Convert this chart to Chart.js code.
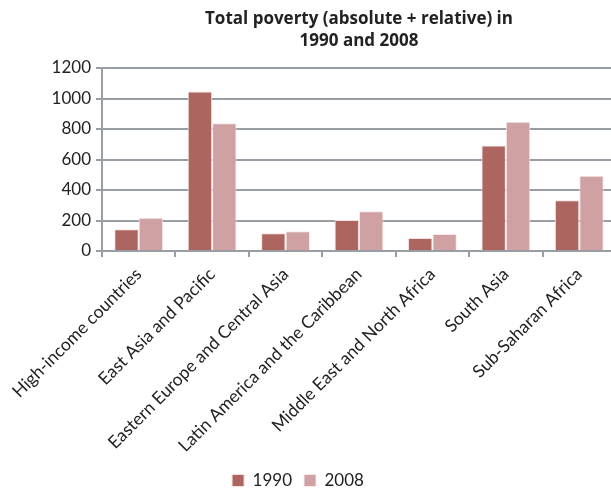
<!DOCTYPE html>
<html>
<head>
<meta charset="utf-8">
<script src="https://cdn.jsdelivr.net/npm/chart.js@4"></script>
<style>
  html, body { margin: 0; padding: 0; background: #fff; overflow: hidden; }
  .wrap { position: relative; width: 611px; height: 490px; overflow: hidden; }
  #chartTitle {
    position: absolute; top: 7px; left: 102px; width: 514px;
    text-align: center; font: bold 17px "Open Sans", sans-serif; line-height: 22px; color: #222;
  }
  canvas { position: absolute; left: 0; top: 0; }
</style>
</head>
<body>
<div class="wrap">
  <canvas id="barChart" width="617" height="490"></canvas>
  <div id="chartTitle">Total poverty (absolute + relative) in<br>1990 and 2008</div>
</div>
<script>
const regions = [
  'High-income countries',
  'East Asia and Pacific',
  'Eastern Europe and Central Asia',
  'Latin America and the Caribbean',
  'Middle East and North Africa',
  'South Asia',
  'Sub-Saharan Africa'
];
const poverty1990 = [143, 1046, 117, 203, 86, 691, 332];
const poverty2008 = [218, 837, 130, 260, 112, 848, 493];
const yTicks = [0, 200, 400, 600, 800, 1000, 1200];

const gridGray = '#999da4';
const textColor = '#222';

window.onload = () => {
  const ctx = document.getElementById('barChart').getContext('2d');
  new Chart(ctx, {
    type: 'bar',
    data: {
      labels: regions,
      datasets: [
        {
          label: '1990',
          data: poverty1990,
          backgroundColor: '#ac665f',
          borderColor: '#f2e0e0',
          borderWidth: 1,
          barPercentage: 1,
          categoryPercentage: 0.665
        },
        {
          label: '2008',
          data: poverty2008,
          backgroundColor: '#d0a1a3',
          borderColor: '#f6e8e8',
          borderWidth: 1,
          barPercentage: 1,
          categoryPercentage: 0.665
        }
      ]
    },
    options: {
      responsive: false,
      animation: false,
      // negative left padding pulls the legend centre left to where the original sits
      layout: { padding: { top: 68, bottom: -9, left: -20, right: 1 } },
      scales: {
        x: {
          grid: { display: true, drawOnChartArea: false, tickLength: 6, color: gridGray, lineWidth: 2, offset: true },
          border: { color: gridGray, width: 2 },
          ticks: {
            font: { family: 'Lato', size: 17.5 },
            color: textColor,
            minRotation: 45,
            maxRotation: 45,
            padding: 7,
            autoSkip: false
          },
          afterFit: scale => { scale.height = 209; }
        },
        y: {
          min: 0,
          max: 1200,
          afterBuildTicks: scale => { scale.ticks = yTicks.map(v => ({ value: v })); },
          grid: { color: gridGray, lineWidth: 2, tickLength: 6 },
          border: { color: gridGray, width: 2 },
          ticks: {
            font: { family: 'Lato', size: 17 },
            color: textColor,
            padding: 5,
            callback: v => String(v)
          },
          afterFit: scale => { scale.width = 122; }
        }
      },
      plugins: {
        title: { display: false },
        tooltip: { enabled: false },
        legend: {
          position: 'bottom',
          labels: {
            boxWidth: 12,
            boxHeight: 12,
            padding: 12,
            color: textColor,
            font: { family: 'Lato', size: 17 }
          }
        }
      }
    }
  });
};
</script>
</body>
</html>
